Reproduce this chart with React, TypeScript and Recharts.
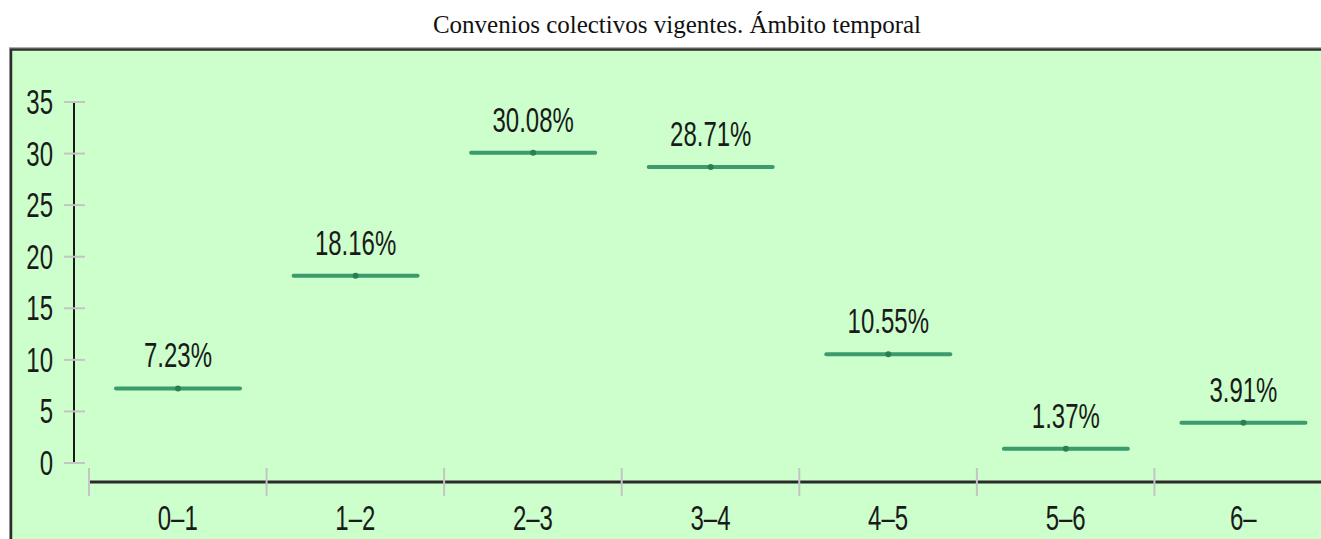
import { ComposedChart, Bar, XAxis, YAxis, LabelList } from "recharts";

// Convenios colectivos vigentes por ámbito temporal (años)
const categories = ["0–1", "1–2", "2–3", "3–4", "4–5", "5–6", "6–"];
const shares = [7.23, 18.16, 30.08, 28.71, 10.55, 1.37, 3.91];
const yTicks = [0, 5, 10, 15, 20, 25, 30, 35];
const title = "Convenios colectivos vigentes. Ámbito temporal";

const data = categories.map((tramo, i) => ({ tramo, pct: shares[i] }));

const FONT = "'Liberation Sans', Arial, sans-serif";
const STRETCH = 1.45; // the original text is tall and narrow
const LINE = "#3b9b6b";
const BAND = 177.6;

function TallText({ x, y, anchor, children }: any) {
  return (
    <text
      transform={`translate(${x},${y}) scale(1,${STRETCH})`}
      textAnchor={anchor}
      fontFamily={FONT}
      fontSize={24}
      fill="#1a1a1a"
    >
      {children}
    </text>
  );
}

const YTick = ({ x, y, payload }: any) => (
  <g>
    <line x1={x - 10} x2={x + 11} y1={y} y2={y} stroke="#c4c4c4" strokeWidth={2} />
    <TallText x={x - 21} y={y + 12} anchor="end">
      {payload.value}
    </TallText>
  </g>
);

const XTick = ({ x, y, payload }: any) => {
  const half = payload.offset || BAND / 2;
  return (
    <g>
      <line x1={x - half} x2={x + half} y1={y + 19} y2={y + 19} stroke="#2a2a2a" strokeWidth={3} />
      <line x1={x - half} x2={x - half} y1={y + 5} y2={y + 33} stroke="#c4c4c4" strokeWidth={2} />
      <TallText x={x} y={y + 67} anchor="middle">
        {payload.value}
      </TallText>
    </g>
  );
};

const Segment = (props: any) => {
  const { x, y, width } = props;
  return (
    <g>
      <line x1={x} x2={x + width} y1={y} y2={y} stroke={LINE} strokeWidth={4} strokeLinecap="round" />
      <circle cx={x + width / 2} cy={y} r={3} fill="#2c7d55" />
    </g>
  );
};

const PctLabel = (props: any) => {
  const { x, y, width, value } = props;
  return (
    <TallText x={x + width / 2} y={y - 21} anchor="middle">
      {`${Number(value).toFixed(2)}%`}
    </TallText>
  );
};

export default function App() {
  return (
    <div
      style={{
        position: "absolute",
        left: 0,
        top: 0,
        width: 1321,
        height: 539,
        overflow: "hidden",
        background: "#fff",
      }}
    >
      <svg width={1321} height={539} style={{ position: "absolute", left: 0, top: 0 }}>
        <rect x={9.5} y={47.5} width={1400} height={600} fill="none" stroke="#b0b0b0" strokeWidth={1} />
        <rect x={11} y={49.5} width={1400} height={600} fill="#ccffcc" stroke="#2e2e2e" strokeWidth={2.5} />
        <text
          x={677}
          y={33}
          textAnchor="middle"
          fontFamily="'Liberation Serif', 'Times New Roman', serif"
          fontSize={25}
          fill="#111"
        >
          {title}
        </text>
      </svg>
      <div style={{ position: "absolute", left: 0, top: 0 }}>
        <ComposedChart
          width={1340}
          height={539}
          data={data}
          margin={{ top: 102, right: 8, bottom: 0, left: 0 }}
        >
          <XAxis
            dataKey="tramo"
            padding={{ left: 15, right: 0 }}
            height={76}
            axisLine={false}
            tickLine={false}
            tickSize={0}
            tickMargin={0}
            interval={0}
            tick={<XTick />}
          />
          <YAxis
            domain={[0, 35]}
            ticks={yTicks}
            width={74}
            interval={0}
            axisLine={{ stroke: "#1a1a1a", strokeWidth: 2 }}
            tickLine={false}
            tickSize={0}
            tickMargin={0}
            tick={<YTick />}
          />
          <Bar dataKey="pct" barSize={124} shape={<Segment />} isAnimationActive={false}>
            <LabelList dataKey="pct" content={<PctLabel />} />
          </Bar>
        </ComposedChart>
      </div>
    </div>
  );
}
